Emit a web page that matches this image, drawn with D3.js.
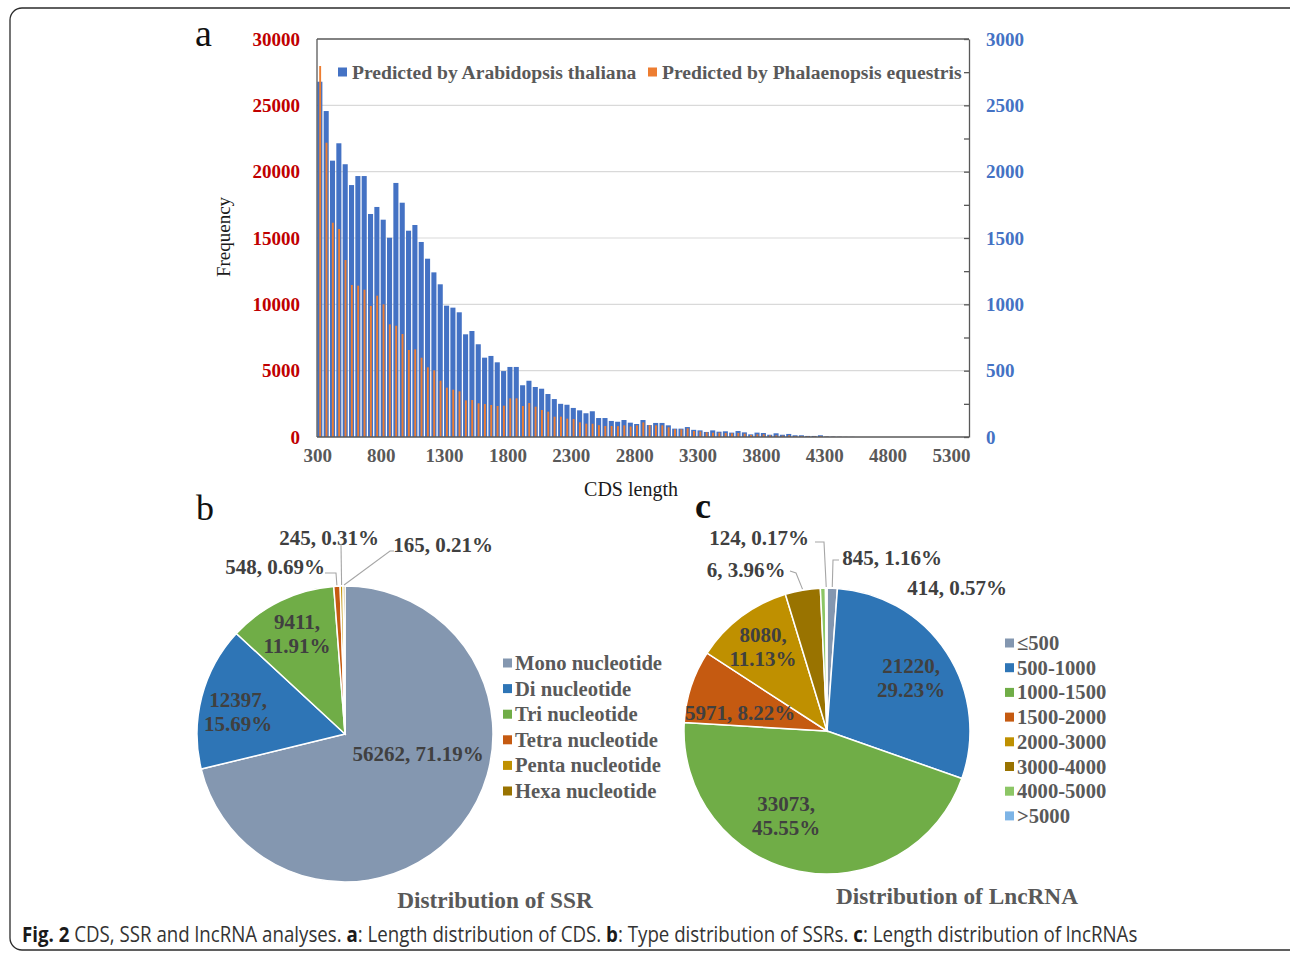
<!DOCTYPE html>
<html>
<head>
<meta charset="utf-8">
<script src="https://cdn.jsdelivr.net/npm/d3@7"></script>
<style>
  html, body { margin: 0; padding: 0; background: #fff; }
  svg { display: block; }
</style>
</head>
<body>
<svg id="chart" width="1290" height="954"></svg>
<script>
// ---------------- DATA ----------------
// Panel a: CDS length histogram (bins of 50 starting at 300)
const cdsBins = d3.range(300, 5401, 50);
const cdsTickLabels = [300, 800, 1300, 1800, 2300, 2800, 3300, 3800, 4300, 4800, 5300];
const seriesNames = ["Predicted by Arabidopsis thaliana", "Predicted by Phalaenopsis equestris"];
// Arabidopsis (right axis, 0-3000)
const arabidopsisFreq = [
  2678, 2457, 2083, 2214, 2056, 1899, 1967, 1967, 1681, 1734,
  1638, 1502, 1915, 1766, 1555, 1598, 1470, 1344, 1241, 1151,
  990, 975, 940, 774, 799, 699, 598, 611, 563, 497,
  528, 528, 390, 424, 377, 364, 324, 286, 250, 243,
  219, 201, 179, 194, 143, 143, 121, 115, 128, 108,
  98, 128, 90, 106, 106, 88, 63, 63, 75, 54,
  50, 38, 50, 40, 43, 33, 45, 35, 20, 33,
  30, 17, 28, 17, 23, 13, 13, 8, 8, 13,
  4, 3, 2, 1, 1, 0, 0, 0, 0, 0,
  0, 0, 0, 0, 0, 0, 0, 0, 0, 0,
  0, 0, 0
];
// Phalaenopsis (left axis, 0-30000)
const phalaenopsisFreq = [
  27965, 22183, 16153, 15678, 13342, 11457, 11407, 11106, 9877, 10653,
  10000, 8493, 8387, 7764, 6558, 6608, 5976, 5253, 5025, 4244,
  3719, 3568, 3442, 2764, 2789, 2538, 2487, 2412, 2337, 2362,
  2914, 2914, 2337, 2563, 2286, 2035, 1910, 1533, 1533, 1382,
  1357, 1106, 1005, 1000, 890, 829, 829, 815, 880, 790,
  880, 1100, 890, 879, 879, 729, 578, 578, 653, 452,
  420, 352, 327, 327, 302, 276, 302, 251, 151, 201,
  201, 126, 126, 101, 126, 75, 75, 50, 50, 75,
  25, 20, 12, 8, 4, 0, 0, 0, 0, 0,
  0, 0, 0, 0, 0, 0, 0, 0, 0, 0,
  0, 0, 0
];
const leftTicks = [0, 5000, 10000, 15000, 20000, 25000, 30000];
const rightTicks = [0, 500, 1000, 1500, 2000, 2500, 3000];

// Panel b: SSR types
const ssrTypes = ["Mono nucleotide", "Di nucleotide", "Tri nucleotide", "Tetra nucleotide", "Penta nucleotide", "Hexa nucleotide"];
const ssrCounts = [56262, 12397, 9411, 548, 245, 165];
const ssrPercents = ["71.19%", "15.69%", "11.91%", "0.69%", "0.31%", "0.21%"];

// Panel c: LncRNA lengths
const lncClasses = ["≤500", "500-1000", "1000-1500", "1500-2000", "2000-3000", "3000-4000", "4000-5000", ">5000"];
const lncCounts = [845, 21220, 33073, 5971, 8080, 2875, 414, 124];
const lncLabelCounts = ["845", "21220", "33073", "5971", "8080", "6", "414", "124"];
const lncPercents = ["1.16%", "29.23%", "45.55%", "8.22%", "11.13%", "3.96%", "0.57%", "0.17%"];

// ---------------- STYLE ----------------
const SERIF = "'Liberation Serif', 'Times New Roman', serif";
const blue = "#4472C4", orange = "#ED7D31";
const ssrColors = ["#8497B0", "#2E75B6", "#70AD47", "#C55A11", "#BF9000", "#997300"];
const lncColors = ["#8497B0", "#2E75B6", "#70AD47", "#C55A11", "#BF9000", "#997300", "#8CC665", "#7DB4E6"];

const svg = d3.select("#chart");

// outer frame
svg.append("rect").attr("x", 10).attr("y", 8).attr("width", 1310).attr("height", 942)
  .attr("rx", 12).attr("fill", "none").attr("stroke", "#2b2b2b").attr("stroke-width", 1.3);

// ---------------- PANEL A ----------------
const plot = { left: 317, right: 969, top: 39, bottom: 437 };
const x = d3.scaleBand().domain(cdsBins).range([plot.left, plot.right]).paddingInner(0.2).paddingOuter(0.05);
const yL = d3.scaleLinear().domain([0, 30000]).range([plot.bottom, plot.top]);
const yR = d3.scaleLinear().domain([0, 3000]).range([plot.bottom, plot.top]);
const fmt = d3.format("d");

const gA = svg.append("g");
// gridlines
gA.append("g").selectAll("line").data(leftTicks.filter(d => d > 0 && d < 30000)).join("line")
  .attr("x1", plot.left).attr("x2", plot.right)
  .attr("y1", d => yL(d)).attr("y2", d => yL(d))
  .attr("stroke", "#D9D9D9").attr("stroke-width", 1.2);

// blue bars
gA.append("g").selectAll("rect").data(arabidopsisFreq).join("rect")
  .attr("x", (d, i) => x(cdsBins[i]))
  .attr("width", x.bandwidth())
  .attr("y", d => yR(d))
  .attr("height", d => yR(0) - yR(d))
  .attr("fill", blue);

// orange bars (narrow, on top)
const ow = 1.9;
gA.append("g").selectAll("rect").data(phalaenopsisFreq).join("rect")
  .attr("x", (d, i) => x(cdsBins[i]) + x.bandwidth() / 2 - ow / 2 + 0.3)
  .attr("width", ow)
  .attr("y", d => yL(d))
  .attr("height", d => yL(0) - yL(d))
  .attr("fill", orange);

// frame lines: top, left, bottom
gA.append("line").attr("x1", plot.left).attr("x2", plot.right).attr("y1", plot.top).attr("y2", plot.top)
  .attr("stroke", "#595959").attr("stroke-width", 1.3);
gA.append("line").attr("x1", plot.left).attr("x2", plot.left).attr("y1", plot.top).attr("y2", plot.bottom)
  .attr("stroke", "#595959").attr("stroke-width", 1.3);
gA.append("line").attr("x1", plot.left).attr("x2", plot.right).attr("y1", plot.bottom).attr("y2", plot.bottom)
  .attr("stroke", "#595959").attr("stroke-width", 1.5);

// right axis line with inward ticks
const rAxisTicks = gA.append("g").attr("transform", `translate(${plot.right},0)`)
  .call(d3.axisLeft(yR).tickValues(d3.range(0, 3001, 250)).tickSize(5).tickSizeOuter(0).tickFormat(""));
rAxisTicks.selectAll("path,line").attr("stroke", "#595959").attr("stroke-width", 1.3);

// left labels
const lAxis = gA.append("g").attr("transform", `translate(${plot.left},0)`)
  .call(d3.axisLeft(yL).tickValues(leftTicks).tickFormat(fmt).tickSize(0).tickPadding(17));
lAxis.select(".domain").remove();
lAxis.selectAll("text").attr("fill", "#C00000").style("font-family", SERIF)
  .style("font-weight", "bold").style("font-size", "19px");

// right labels
const rAxis = gA.append("g").attr("transform", `translate(${plot.right},0)`)
  .call(d3.axisRight(yR).tickValues(rightTicks).tickFormat(fmt).tickSize(0).tickPadding(17));
rAxis.select(".domain").remove();
rAxis.selectAll("text").attr("fill", "#4472C4").style("font-family", SERIF)
  .style("font-weight", "bold").style("font-size", "19px");

// bottom labels
const bAxis = gA.append("g").attr("transform", `translate(0,${plot.bottom})`)
  .call(d3.axisBottom(x).tickValues(cdsTickLabels).tickFormat(fmt).tickSize(0).tickPadding(12));
bAxis.select(".domain").remove();
bAxis.selectAll("text").attr("fill", "#595959").attr("dx", -2).style("font-family", SERIF)
  .style("font-weight", "bold").style("font-size", "19px");

// axis titles
gA.append("text").attr("transform", "translate(230,237) rotate(-90)")
  .attr("text-anchor", "middle").style("font-family", SERIF).style("font-size", "19px")
  .attr("fill", "#1a1a1a").text("Frequency");
gA.append("text").attr("x", 631).attr("y", 496).attr("text-anchor", "middle")
  .style("font-family", SERIF).style("font-size", "20px").attr("fill", "#1a1a1a").text("CDS length");

// legend a
const legA = gA.append("g");
const legAItems = [
  { name: seriesNames[0], color: blue, x: 338 },
  { name: seriesNames[1], color: orange, x: 648 }
];
legAItems.forEach(it => {
  legA.append("rect").attr("x", it.x).attr("y", 67.5).attr("width", 9).attr("height", 9).attr("fill", it.color);
  legA.append("text").attr("x", it.x + 14).attr("y", 78.5)
    .style("font-family", SERIF).style("font-weight", "bold").style("font-size", "19.6px")
    .attr("fill", "#595959").text(it.name);
});

// panel letters
svg.append("text").attr("x", 195).attr("y", 46).style("font-family", SERIF).style("font-size", "38px")
  .attr("fill", "#111").text("a");
svg.append("text").attr("x", 196).attr("y", 520).style("font-family", SERIF).style("font-size", "36px")
  .attr("fill", "#111").text("b");
svg.append("text").attr("x", 695).attr("y", 518).style("font-family", SERIF).style("font-size", "36px")
  .style("font-weight", "bold").attr("fill", "#111").text("c");

// ---------------- PIE helper ----------------
function drawPie(cfg) {
  const g = svg.append("g").attr("transform", `translate(${cfg.cx},${cfg.cy})`);
  const pie = d3.pie().sort(null).value(d => d).startAngle(0).endAngle(2 * Math.PI);
  const arcs = pie(cfg.values);
  const arc = d3.arc().innerRadius(0).outerRadius(cfg.r);
  g.selectAll("path").data(arcs).join("path")
    .attr("d", arc).attr("fill", (d, i) => cfg.colors[i])
    .attr("stroke", "#fff").attr("stroke-width", 1.5);

  // labels
  cfg.labels.forEach((lab, i) => {
    const lay = cfg.layout[i];
    const t = g.append("text").attr("text-anchor", "middle")
      .style("font-family", SERIF).style("font-weight", "bold").style("font-size", "21px")
      .attr("fill", "#404040");
    lab.forEach((line, j) => {
      t.append("tspan").attr("x", lay.dx).attr("y", lay.dy + j * 24).text(line);
    });
    if (lay.leader) {
      const a = (arcs[i].startAngle + arcs[i].endAngle) / 2;
      const p0 = [Math.sin(a) * (cfg.r + 1), -Math.cos(a) * (cfg.r + 1)];
      const pts = [p0].concat(lay.leader);
      g.append("path").attr("d", d3.line()(pts)).attr("fill", "none")
        .attr("stroke", "#A6A6A6").attr("stroke-width", 1.1);
    }
  });

  // legend
  const lg = svg.append("g");
  cfg.names.forEach((n, i) => {
    const yy = cfg.legY + i * cfg.legStep;
    lg.append("rect").attr("x", cfg.legX).attr("y", yy - 4.5).attr("width", 9).attr("height", 9).attr("fill", cfg.colors[i]);
    lg.append("text").attr("x", cfg.legX + 12).attr("y", yy + 7)
      .style("font-family", SERIF).style("font-weight", "bold").style("font-size", "20.6px")
      .attr("fill", "#595959").text(n);
  });
  // title
  svg.append("text").attr("x", cfg.titleX).attr("y", cfg.titleY).attr("text-anchor", "middle")
    .style("font-family", SERIF).style("font-weight", "bold").style("font-size", "23.3px")
    .attr("fill", "#595959").text(cfg.title);
}

// ---------------- PANEL B ----------------
drawPie({
  cx: 345, cy: 734, r: 148,
  values: ssrCounts, colors: ssrColors, names: ssrTypes,
  labels: [
    [`${ssrCounts[0]}, ${ssrPercents[0]}`],
    [`${ssrCounts[1]},`, ssrPercents[1]],
    [`${ssrCounts[2]},`, ssrPercents[2]],
    [`${ssrCounts[3]}, ${ssrPercents[3]}`],
    [`${ssrCounts[4]}, ${ssrPercents[4]}`],
    [`${ssrCounts[5]}, ${ssrPercents[5]}`]
  ],
  layout: [
    { dx: 73, dy: 27 },
    { dx: -107, dy: -27 },
    { dx: -48, dy: -105 },
    { dx: -70, dy: -160, leader: [[-9, -161], [-20, -161]] },
    { dx: -16, dy: -189, leader: [[-4, -190]] },
    { dx: 98, dy: -182, leader: [[45, -183], [49, -183]] }
  ],
  legX: 503, legY: 663, legStep: 25.6,
  title: "Distribution of SSR", titleX: 495, titleY: 908
});

// ---------------- PANEL C ----------------
drawPie({
  cx: 827, cy: 731, r: 143,
  values: lncCounts, colors: lncColors, names: lncClasses,
  labels: lncCounts.map((d, i) => {
    const c = lncLabelCounts[i], p = lncPercents[i];
    return (i === 1 || i === 2 || i === 4) ? [`${c},`, p] : [`${c}, ${p}`];
  }),
  layout: [
    { dx: 65, dy: -166, leader: [[6, -171], [12, -171]] },
    { dx: 84, dy: -58 },
    { dx: -41, dy: 80 },
    { dx: -87, dy: -11 },
    { dx: -64, dy: -89 },
    { dx: -81, dy: -154, leader: [[-31, -158], [-37, -160]] },
    { dx: 130, dy: -136 },
    { dx: -68, dy: -186, leader: [[-3, -189], [-12, -189]] }
  ],
  legX: 1005, legY: 643, legStep: 24.7,
  title: "Distribution of LncRNA", titleX: 957, titleY: 904
});

// ---------------- CAPTION ----------------
const capG = svg.append("g");
const cap = capG.append("text").attr("x", 0).attr("y", 0)
  .style("font-family", "'Open Sans', 'Noto Sans', sans-serif")
  .style("font-size", "21px").attr("fill", "#333");
const capParts = [
  ["Fig. 2", true], [" CDS, SSR and lncRNA analyses. ", false], ["a", true],
  [": Length distribution of CDS. ", false], ["b", true], [": Type distribution of SSRs. ", false],
  ["c", true], [": Length distribution of lncRNAs", false]
];
capParts.forEach(([t, b]) => {
  cap.append("tspan").style("font-weight", b ? "bold" : "normal").attr("fill", b ? "#1a1a1a" : "#333").text(t);
});
const capW = cap.node().getComputedTextLength();
const sx = Math.min(1, 1116 / capW);
capG.attr("transform", `translate(22,942) scale(${sx},1)`);
</script>
</body>
</html>
